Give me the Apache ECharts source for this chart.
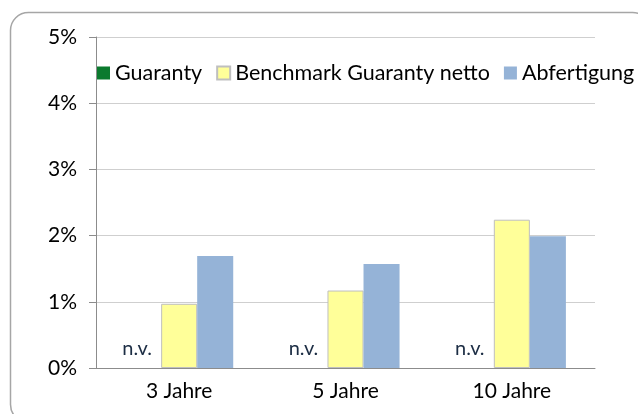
<!DOCTYPE html>
<html>
<head>
<meta charset="utf-8">
<script src="https://cdn.jsdelivr.net/npm/echarts@6/dist/echarts.min.js"></script>
<style>
  html, body { margin: 0; padding: 0; background: #fff; }
  #chart { width: 638px; height: 414px; }
</style>
</head>
<body>
<div id="chart"></div>
<script>
// chart data
const categories = ['3 Jahre', '5 Jahre', '10 Jahre'];
const guaranty = [0, 0, 0];            // no values, shown as "n.v."
const benchmark = [0.97, 1.17, 2.24];
const abfertigung = [1.69, 1.57, 1.99];
const yTicks = [0, 1, 2, 3, 4, 5];

const font = 'Lato';
const chart = echarts.init(document.getElementById('chart'));

const option = {
  animation: false,
  textStyle: { fontFamily: font },
  graphic: [{
    type: 'rect',
    shape: { x: 10.5, y: 12.5, width: 640, height: 410, r: 18 },
    style: { fill: 'none', stroke: '#a6a6a6', lineWidth: 1.5 },
    silent: true
  }],
  legend: {
    left: 97,
    top: 62,
    width: 600,
    padding: 0,
    itemWidth: 13,
    itemHeight: 13,
    itemGap: 14,
    icon: 'rect',
    textStyle: { fontFamily: font, fontSize: 21.5, color: '#000' },
    data: ['Guaranty', 'Benchmark Guaranty netto', 'Abfertigung']
  },
  grid: { left: 96, right: 43, top: 37, bottom: 46 },
  xAxis: {
    type: 'category',
    data: categories,
    axisLine: { lineStyle: { color: '#8c8c8c' } },
    axisTick: { length: 7, lineStyle: { color: '#8c8c8c' } },
    axisLabel: { fontFamily: font, fontSize: 21, color: '#000', margin: 13 }
  },
  yAxis: {
    type: 'value',
    min: yTicks[0],
    max: yTicks[yTicks.length - 1],
    interval: 1,
    axisLine: { show: true, lineStyle: { color: '#8c8c8c' } },
    axisTick: { show: true, length: 7, lineStyle: { color: '#8c8c8c' } },
    axisLabel: { fontFamily: font, fontSize: 21, color: '#000', margin: 19, formatter: v => v + '%' },
    splitLine: { lineStyle: { color: '#cfcfcf' } }
  },
  series: [
    {
      name: 'Guaranty',
      type: 'bar',
      data: guaranty,
      barGap: 0,
      barCategoryGap: '35%',
      itemStyle: { color: '#0b7a2e' },
      label: {
        show: true,
        position: 'top',
        distance: 9,
        offset: [-6, 0],
        formatter: 'n.v.',
        fontFamily: font,
        fontSize: 20,
        color: '#1c2d44'
      }
    },
    {
      name: 'Benchmark Guaranty netto',
      type: 'bar',
      data: benchmark,
      itemStyle: { color: '#ffff99', borderColor: '#bfbfbf', borderWidth: 1 }
    },
    {
      name: 'Abfertigung',
      type: 'bar',
      data: abfertigung,
      itemStyle: { color: '#95b3d7' }
    }
  ]
};

chart.setOption(option);
</script>
</body>
</html>
